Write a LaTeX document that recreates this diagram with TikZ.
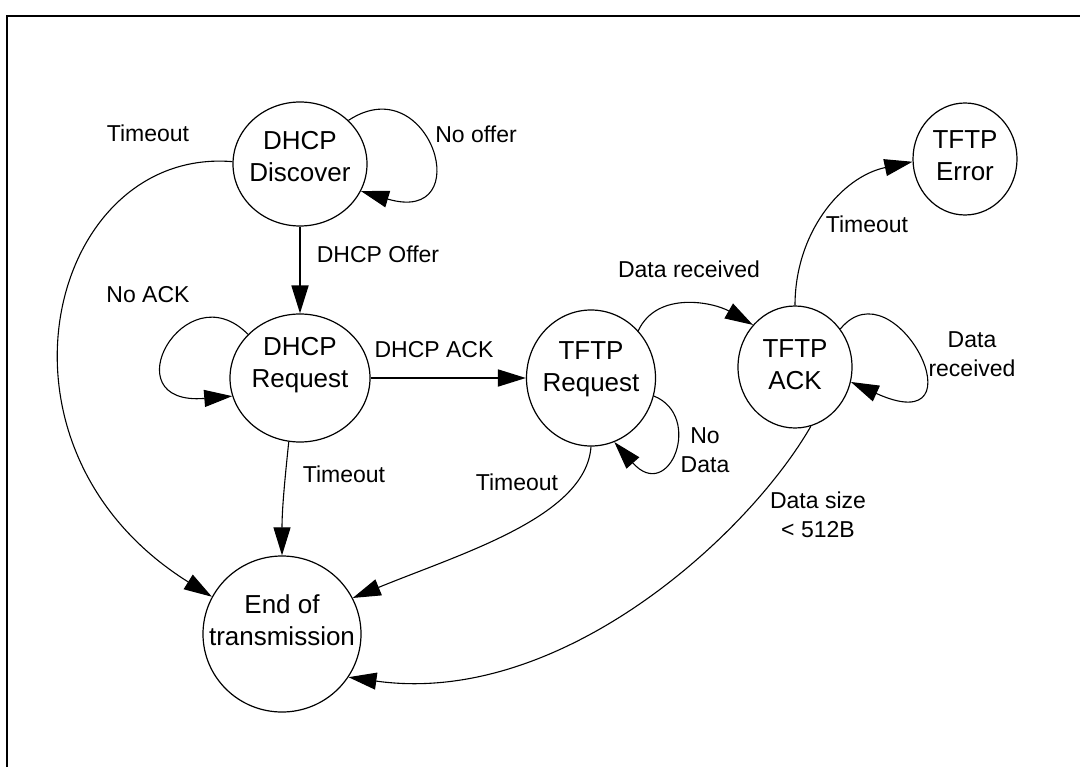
\documentclass[tikz,border=0pt]{standalone}
\usepackage{fontspec}
\setmainfont{Liberation Sans}
\usetikzlibrary{arrows.meta,shapes.geometric}

\begin{document}
\begin{tikzpicture}[
  x=0.5pt, y=0.5pt,
  >={Triangle[length=14pt,width=8.5pt]},
  state/.style={draw, ellipse, line width=0.6pt, inner sep=0pt},
  stext/.style={font=\fontsize{13}{16}\selectfont, align=center, inner sep=0pt},
  lbl/.style={font=\fontsize{11.5}{14.5}\selectfont, align=center, inner sep=0pt},
  trans/.style={->, line width=0.55pt},
  strong/.style={->, line width=0.9pt},
  frame/.style={line width=1.3pt}
]
\useasboundingbox (0,0) rectangle (1080,767);

% ---------- frame ----------
\draw[frame] (7,0) -- (7,751) -- (1080,751);

% ---------- states ----------
\node[state, minimum width=67pt, minimum height=62pt] (disc) at (300,603) {};
\node[state, minimum width=70pt, minimum height=64pt] (dreq) at (300,389) {};
\node[state, minimum width=64.5pt, minimum height=68pt] (treq) at (591,389) {};
\node[state, minimum width=57pt, minimum height=61pt] (tack) at (795,400) {};
\node[state, minimum width=52pt, minimum height=56pt] (terr) at (965,608) {};
\node[state, minimum width=79pt, minimum height=78pt] (eot) at (282,133) {};

\node[stext, yshift=3.5pt] (disc-t) at (disc) {DHCP\\Discover};
\node[stext, yshift=6.5pt] (dreq-t) at (dreq) {DHCP\\Request};
\node[stext, yshift=4.5pt] (treq-t) at (treq) {TFTP\\Request};
\node[stext, yshift=1pt]   (tack-t) at (tack) {TFTP\\ACK};
\node[stext, yshift=1.5pt] (terr-t) at (terr) {TFTP\\Error};
\node[stext, yshift=7pt]   (eot-t)  at (eot)  {End of\\transmission};

% ---------- DHCP transitions ----------
\draw[strong] (disc) -- (dreq);
\draw[strong] (dreq) -- (treq);
\draw[trans] (disc.42) .. controls +(82,54) and +(118,-35) .. (disc.-24);
\draw[trans] (dreq.140) .. controls +(-63,64) and +(-123,-10) .. (dreq.195);
\draw[trans] (disc.178) .. controls +(-183,15) and +(-240,150) .. (eot.152);
\draw[trans] (dreq.-100) to[out=-96, in=90] (eot.north);

% ---------- TFTP transitions ----------
\draw[trans] (treq.-16) .. controls +(50,-20) and +(55,-62) .. (treq.-70);
\draw[trans] (treq.45) to[out=65, in=150] (tack.135);
\draw[trans] (treq.south) .. controls +(-5,-70) and +(110,45) .. (eot.27);
\draw[trans] (tack.north) to[out=90, in=192] (terr.183);
\draw[trans] (tack.40) .. controls +(55,67) and +(135,-61) .. (tack.-15);
\draw[trans] (tack.-75) .. controls +(-62,-108) and +(213,-30) .. (eot.-33);

% ---------- labels ----------
\node[lbl] (l-disc-to) at (148,634) {Timeout};
\node[lbl] (l-nooffer) at (476,633) {No offer};
\node[lbl] (l-offer)   at (378,513) {DHCP Offer};
\node[lbl] (l-noack)   at (148,472) {No ACK};
\node[lbl] (l-ack)     at (434,417) {DHCP ACK};
\node[lbl] (l-dreq-to) at (344,293) {Timeout};
\node[lbl] (l-treq-to) at (517,285) {Timeout};
\node[lbl] (l-nodata)  at (705,317) {No\\Data};
\node[lbl] (l-data)    at (689,498) {Data received};
\node[lbl] (l-tack-to) at (867,543) {Timeout};
\node[lbl] (l-again)   at (972,413) {Data\\received};
\node[lbl] (l-size)    at (818,252) {Data size\\< 512B};

\end{tikzpicture}
\end{document}
